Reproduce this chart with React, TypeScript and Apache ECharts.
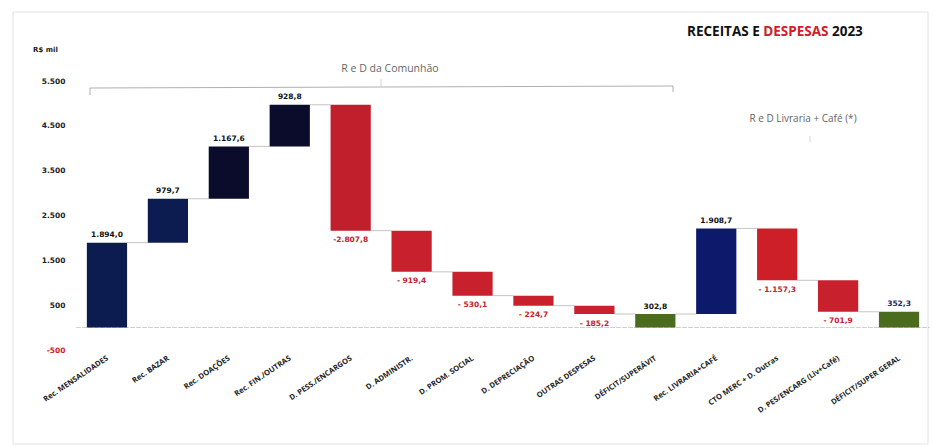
import React, { useEffect, useRef } from "react";
import * as echarts from "echarts";

const categories = [
  "Rec. MENSALIDADES",
  "Rec. BAZAR",
  "Rec. DOAÇÕES",
  "Rec. FIN./OUTRAS",
  "D. PESS./ENCARGOS",
  "D. ADMINISTR.",
  "D. PROM. SOCIAL",
  "D. DEPRECIAÇÃO",
  "OUTRAS DESPESAS",
  "DÉFICIT/SUPERÁVIT",
  "Rec. LIVRARIA+CAFÉ",
  "CTO MERC + D. Outras",
  "D. PES/ENCARG (Liv+Café)",
  "DÉFICIT/SUPER GERAL",
];
const values = [1894.0, 979.7, 1167.6, 928.8, -2807.8, -919.4, -530.1, -224.7, -185.2, 302.8, 1908.7, -1157.3, -701.9, 352.3];
const isTotal = [false, false, false, false, false, false, false, false, false, true, false, false, false, true];
const barColors = [
  "#0c1c50", "#0c1c50", "#0b0b2c", "#0b0b2c",
  "#c01f2b", "#c8202c", "#c8202c", "#c8202c", "#c8202c",
  "#4b6b1e", "#0d1a6c", "#cc1f27", "#c8202c", "#4b6b1e",
];
const yTicks = { min: -500, max: 5500, interval: 1000 };

function fmt(v: number): string {
  const s = Math.abs(v).toFixed(1);
  const [i, d] = s.split(".");
  return i.replace(/\B(?=(\d{3})+(?!\d))/g, ".") + "," + d;
}
function fmtInt(v: number): string {
  const neg = v < 0;
  const s = String(Math.abs(Math.round(v))).replace(/\B(?=(\d{3})+(?!\d))/g, ".");
  return (neg ? "-" : "") + s;
}

export default function App() {
  const ref = useRef<HTMLDivElement>(null);
  useEffect(() => {
    document.body.style.margin = "0";
    if (!ref.current) return;
    const chart = echarts.init(ref.current, null, { renderer: "svg" });

    const bases: number[] = [];
    const heights: number[] = [];
    const ends: number[] = [];
    let cum = 0;
    values.forEach((v, k) => {
      if (isTotal[k]) {
        bases.push(0);
        heights.push(v);
        cum = v;
      } else if (v >= 0) {
        bases.push(cum);
        heights.push(v);
        cum += v;
      } else {
        cum += v;
        bases.push(cum);
        heights.push(-v);
      }
      ends.push(cum);
    });
    const connectors = ends.slice(0, -1).map((lvl, k) => [k, lvl]);

    const font = "'Open Sans', 'DejaVu Sans', sans-serif";

    chart.setOption({
      animation: false,
      backgroundColor: "#ffffff",
      title: {
        text: "{a|RECEITAS E }{b|DESPESAS}{a| 2023}",
        left: 682,
        top: 19,
        textStyle: {
          rich: {
            a: { fontFamily: font, fontWeight: "bold", fontSize: 13.5, color: "#111" },
            b: { fontFamily: font, fontWeight: "bold", fontSize: 13.5, color: "#d0202c" },
          },
        },
      },
      grid: { left: 76.5, right: 4.5, top: 81, bottom: 97 },
      xAxis: {
        type: "category",
        data: categories,
        axisLine: { onZero: true, lineStyle: { color: "#cfcfcf", width: 1, type: "dashed" } },
        axisTick: { show: false },
        axisLabel: {
          interval: 0,
          rotate: 34,
          fontSize: 7.6,
          fontWeight: "bold",
          fontFamily: font,
          color: "#222",
          margin: 7,
        },
      },
      yAxis: {
        type: "value",
        min: yTicks.min,
        max: yTicks.max,
        interval: yTicks.interval,
        splitLine: { show: false },
        axisLine: { show: false },
        axisTick: { show: false },
        axisLabel: {
          fontSize: 7.5,
          fontWeight: "bold",
          fontFamily: "'DejaVu Sans', sans-serif",
          color: (v: any) => (Number(v) < 0 ? "#d0202c" : "#222"),
          formatter: (v: number) => fmtInt(v),
          margin: 11,
        },
      },
      series: [
        {
          type: "bar",
          stack: "w",
          barWidth: "66%",
          silent: true,
          itemStyle: { color: "transparent" },
          data: bases,
        },
        {
          type: "bar",
          stack: "w",
          barWidth: "66%",
          data: heights.map((h, k) => ({
            value: h,
            itemStyle: { color: barColors[k] },
            label: {
              show: true,
              position: values[k] < 0 ? "bottom" : "top",
              distance: values[k] < 0 ? 5 : 4,
              formatter: () =>
                values[k] < 0 ? (k === 4 ? "-" : "- ") + fmt(values[k]) : fmt(values[k]),
              fontSize: 7.5,
              fontWeight: "bold",
              fontFamily: "'DejaVu Sans', sans-serif",
              color: values[k] < 0 ? "#c8202c" : k === values.length - 1 ? "#1a2a6c" : "#111",
            },
          })),
        },
        {
          type: "custom",
          silent: true,
          data: connectors,
          encode: { x: 0, y: 1 },
          renderItem: (params: any, api: any) => {
            const i = api.value(0);
            const lvl = api.value(1);
            const p1 = api.coord([i, lvl]);
            const p2 = api.coord([i + 1, lvl]);
            const hw = api.size([1, 0])[0] * 0.33;
            return {
              type: "line",
              shape: { x1: p1[0] + hw, y1: p1[1], x2: p2[0] - hw, y2: p2[1] },
              style: { stroke: "#b5b5b5", lineWidth: 0.8 },
            };
          },
          z: 1,
        },
      ],
      graphic: [
        {
          type: "rect",
          shape: { x: 13, y: 12, width: 915, height: 432 },
          style: { fill: "none", stroke: "#e2e2e2", lineWidth: 1 },
          silent: true,
        },
        {
          type: "text",
          x: 33,
          y: 46,
          style: { text: "R$ mil", fontSize: 7, fontWeight: "bold", fontFamily: "'DejaVu Sans', sans-serif", fill: "#222" },
        },
        {
          type: "text",
          x: 390,
          y: 68,
          style: {
            text: "R e D da Comunhão",
            fontSize: 10.5,
            fontFamily: font,
            fill: "#666",
            align: "center",
            verticalAlign: "middle",
          },
        },
        {
          type: "polyline",
          shape: { points: [[90, 95], [90, 88], [673, 86], [673, 92]] },
          style: { stroke: "#9a9a9a", lineWidth: 0.8, fill: "none" },
        },
        {
          type: "line",
          shape: { x1: 381, y1: 79, x2: 381, y2: 86 },
          style: { stroke: "#c8c8c8", lineWidth: 0.8 },
        },
        {
          type: "text",
          x: 803,
          y: 118,
          style: {
            text: "R e D Livraria + Café (*)",
            fontSize: 10,
            fontFamily: font,
            fill: "#666",
            align: "center",
            verticalAlign: "middle",
          },
        },
        {
          type: "line",
          shape: { x1: 810, y1: 136, x2: 810, y2: 142 },
          style: { stroke: "#c8c8c8", lineWidth: 0.8 },
        },
      ],
    });
    return () => chart.dispose();
  }, []);
  return <div ref={ref} style={{ width: 934, height: 447 }} />;
}
